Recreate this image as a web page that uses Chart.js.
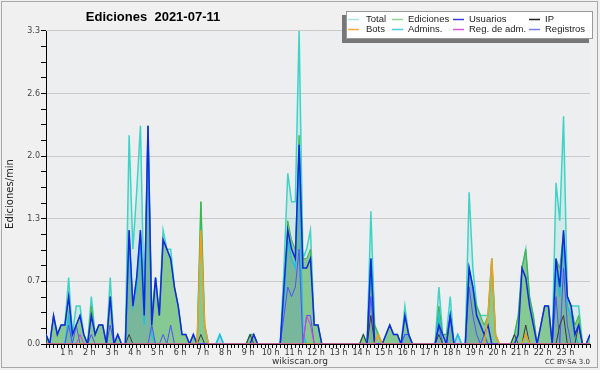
<!DOCTYPE html>
<html>
<head>
<meta charset="utf-8">
<script src="https://cdn.jsdelivr.net/npm/chart.js@4.4.0/dist/chart.umd.min.js"></script>
<style>
    body { margin: 0; background: #f0f0f0; }
    canvas { display: block; }
</style>
</head>
<body>
<canvas id="chart" width="600" height="370"></canvas>
<script>
// 10 minute bins, 0 = 00:00 ... 144 = 24:00
const bins = Array.from({length: 145}, (_, i) => i);

// edits per minute, one row per hour
const total = [
    0.1, 0, 0.3, 0.1, 0.2, 0.2,
    0.7, 0.1, 0.4, 0.4, 0.1, 0,
    0.5, 0.1, 0.2, 0.2, 0, 0.7,
    0, 0.1, 0, 0, 2.2, 1.0,
    1.6, 2.3, 0.4, 2.3, 0.3, 0.7,
    0.3, 1.2, 1.0, 1.0, 0.6, 0.4,
    0.1, 0.1, 0, 0.1, 0, 1.5,
    0.2, 0, 0, 0, 0.1, 0,
    0, 0, 0, 0, 0, 0,
    0.1, 0.1, 0, 0, 0, 0,
    0, 0, 0, 0.8, 1.8, 1.5,
    1.5, 3.3, 0.9, 1.0, 1.2, 0.2,
    0.2, 0, 0, 0, 0, 0,
    0, 0, 0, 0, 0, 0,
    0.1, 0, 1.4, 0.2, 0.1, 0,
    0.1, 0.2, 0.1, 0.1, 0, 0.4,
    0.1, 0, 0, 0, 0, 0,
    0, 0, 0.6, 0.1, 0.1, 0.5,
    0, 0.1, 0, 0, 1.6, 0.8,
    0.4, 0.3, 0.3, 0.3, 0.9, 0.1,
    0, 0, 0, 0, 0.1, 0.3,
    0.8, 1.0, 0.5, 0.3, 0, 0.2,
    0.4, 0.4, 0, 1.7, 1.3, 2.4,
    0.5, 0.4, 0.4, 0.4, 0, 0,
    0.1
];

const ediciones = [
    0.1, 0, 0.3, 0.1, 0.2, 0.2,
    0.5, 0.1, 0.2, 0.3, 0.1, 0,
    0.4, 0.1, 0.2, 0.2, 0, 0.5,
    0, 0.1, 0, 0, 1.2, 0.4,
    0.7, 1.2, 0.3, 2.3, 0.3, 0.7,
    0.3, 1.1, 1.0, 0.9, 0.6, 0.4,
    0.1, 0.1, 0, 0.1, 0, 1.5,
    0.2, 0, 0, 0, 0, 0,
    0, 0, 0, 0, 0, 0,
    0.1, 0.1, 0, 0, 0, 0,
    0, 0, 0, 0.6, 1.3, 1.1,
    1.0, 2.2, 0.9, 0.9, 1.0, 0.2,
    0.2, 0, 0, 0, 0, 0,
    0, 0, 0, 0, 0, 0,
    0.1, 0, 0.9, 0.2, 0.1, 0,
    0.1, 0.2, 0.1, 0.1, 0, 0.3,
    0.1, 0, 0, 0, 0, 0,
    0, 0, 0.4, 0.1, 0.1, 0.3,
    0, 0, 0, 0, 0.8, 0.6,
    0.4, 0.3, 0.2, 0.3, 0.9, 0.1,
    0, 0, 0, 0, 0.1, 0.3,
    0.8, 1.0, 0.5, 0.3, 0, 0.2,
    0.4, 0.4, 0, 0.9, 0.8, 1.2,
    0.5, 0.4, 0.2, 0.3, 0, 0,
    0.1
];

const usuarios = [
    0.1, 0, 0.3, 0.1, 0.2, 0.2,
    0.5, 0.1, 0.2, 0.3, 0.1, 0,
    0.3, 0.1, 0.2, 0.2, 0, 0.5,
    0, 0.1, 0, 0, 1.2, 0.4,
    0.7, 1.2, 0.3, 2.3, 0.2, 0.7,
    0.3, 1.1, 1.0, 0.9, 0.6, 0.4,
    0.1, 0.1, 0, 0.1, 0, 0,
    0, 0, 0, 0, 0, 0,
    0, 0, 0, 0, 0, 0,
    0, 0.1, 0, 0, 0, 0,
    0, 0, 0, 0.6, 1.2, 1.0,
    0.9, 2.1, 0.8, 0.8, 0.9, 0.2,
    0.2, 0, 0, 0, 0, 0,
    0, 0, 0, 0, 0, 0,
    0, 0, 0.9, 0, 0, 0,
    0.1, 0.2, 0.1, 0.1, 0, 0.3,
    0.1, 0, 0, 0, 0, 0,
    0, 0, 0.2, 0.1, 0, 0.3,
    0, 0, 0, 0, 0.8, 0.6,
    0.3, 0.2, 0.1, 0.2, 0, 0,
    0, 0, 0, 0, 0, 0.1,
    0.8, 0.7, 0.4, 0.2, 0, 0.2,
    0.4, 0.4, 0, 0.9, 0.6, 1.2,
    0.5, 0.4, 0.1, 0.2, 0, 0,
    0.1
];

const ip = [
    0.1, 0, 0, 0, 0, 0,
    0, 0, 0, 0, 0, 0,
    0, 0, 0, 0, 0, 0,
    0, 0, 0, 0, 0.1, 0,
    0, 0, 0, 0, 0, 0,
    0, 0, 0, 0, 0, 0,
    0, 0, 0, 0, 0, 0.1,
    0, 0, 0, 0, 0, 0,
    0, 0, 0, 0, 0, 0,
    0.1, 0, 0, 0, 0, 0,
    0, 0, 0, 0, 0, 0,
    0, 0, 0, 0, 0, 0,
    0, 0, 0, 0, 0, 0,
    0, 0, 0, 0, 0, 0,
    0.1, 0, 0.3, 0, 0, 0,
    0, 0, 0, 0, 0, 0,
    0, 0, 0, 0, 0, 0,
    0, 0, 0.1, 0, 0, 0,
    0, 0, 0, 0, 0, 0,
    0, 0, 0, 0, 0, 0,
    0, 0, 0, 0, 0.1, 0,
    0, 0.2, 0, 0, 0, 0,
    0, 0, 0, 0, 0.2, 0.3,
    0, 0, 0, 0.2, 0, 0,
    0
];

const bots = [
    0, 0, 0, 0, 0, 0,
    0, 0, 0, 0, 0, 0,
    0, 0, 0, 0, 0, 0,
    0, 0, 0, 0, 0, 0,
    0, 0, 0, 0, 0, 0,
    0, 0, 0, 0, 0, 0,
    0, 0, 0, 0, 0, 1.2,
    0.2, 0, 0, 0, 0, 0,
    0, 0, 0, 0, 0, 0,
    0, 0, 0, 0, 0, 0,
    0, 0, 0, 0, 0, 0,
    0, 0, 0, 0, 0, 0,
    0, 0, 0, 0, 0, 0,
    0, 0, 0, 0, 0, 0,
    0, 0, 0, 0, 0.1, 0,
    0, 0, 0, 0, 0, 0,
    0, 0, 0, 0, 0, 0,
    0, 0, 0, 0, 0, 0,
    0, 0, 0, 0, 0, 0,
    0, 0, 0, 0.3, 0.9, 0.1,
    0, 0, 0, 0, 0, 0,
    0, 0.1, 0, 0, 0, 0,
    0, 0, 0, 0, 0, 0,
    0, 0, 0, 0, 0, 0,
    0
];

const admins = [
    0, 0, 0, 0, 0, 0,
    0.3, 0, 0, 0, 0, 0,
    0, 0, 0, 0, 0, 0,
    0, 0, 0, 0, 1.1, 0.4,
    0.6, 1.1, 0.2, 2.2, 0.1, 0,
    0, 0, 0, 0, 0, 0,
    0, 0, 0, 0, 0, 0,
    0, 0, 0, 0, 0.1, 0,
    0, 0, 0, 0, 0, 0,
    0, 0, 0, 0, 0, 0,
    0, 0, 0, 0.5, 1.1, 0.9,
    0.8, 2.0, 0.1, 0, 0, 0,
    0, 0, 0, 0, 0, 0,
    0, 0, 0, 0, 0, 0,
    0, 0, 0.9, 0, 0, 0,
    0, 0, 0, 0, 0, 0.1,
    0.1, 0, 0, 0, 0, 0,
    0, 0, 0.3, 0, 0, 0.3,
    0, 0.1, 0, 0, 0.8, 0.6,
    0.3, 0.2, 0.1, 0, 0, 0,
    0, 0, 0, 0, 0, 0,
    0, 0, 0, 0, 0, 0,
    0, 0, 0, 0.8, 0.5, 1.1,
    0.4, 0.3, 0.1, 0, 0, 0,
    0
];

const regAdm = [
    0, 0, 0, 0, 0, 0,
    0, 0, 0, 0.1, 0, 0,
    0, 0, 0, 0, 0, 0,
    0, 0, 0, 0, 0, 0,
    0, 0, 0, 0, 0, 0,
    0, 0, 0, 0, 0, 0,
    0, 0, 0, 0, 0, 0,
    0, 0, 0, 0, 0, 0,
    0, 0, 0, 0, 0, 0,
    0, 0, 0, 0, 0, 0,
    0, 0, 0, 0, 0, 0,
    0, 0, 0, 0.3, 0.2, 0,
    0, 0, 0, 0, 0, 0,
    0, 0, 0, 0, 0, 0,
    0, 0, 0, 0, 0, 0,
    0, 0, 0, 0, 0, 0,
    0, 0, 0, 0, 0, 0,
    0, 0, 0, 0, 0, 0,
    0, 0, 0, 0, 0, 0,
    0, 0, 0, 0, 0, 0,
    0, 0, 0, 0, 0, 0,
    0, 0, 0, 0, 0, 0,
    0, 0, 0, 0, 0, 0,
    0, 0, 0, 0, 0, 0,
    0
];

const registros = [
    0, 0, 0, 0, 0, 0,
    0.2, 0, 0.2, 0, 0, 0,
    0.1, 0, 0, 0, 0, 0.2,
    0, 0, 0, 0, 0, 0,
    0, 0, 0, 0, 0.2, 0,
    0, 0.1, 0, 0.2, 0, 0,
    0, 0, 0, 0, 0, 0,
    0, 0, 0, 0, 0, 0,
    0, 0, 0, 0, 0, 0,
    0, 0, 0, 0, 0, 0,
    0, 0, 0, 0.3, 0.6, 0.5,
    0.6, 1.0, 0, 0.3, 0.3, 0,
    0, 0, 0, 0, 0, 0,
    0, 0, 0, 0, 0, 0,
    0, 0, 0.5, 0, 0, 0,
    0, 0, 0, 0, 0, 0.1,
    0.1, 0, 0, 0, 0, 0,
    0, 0, 0.2, 0, 0, 0.3,
    0, 0, 0, 0, 0.6, 0.3,
    0.1, 0, 0.1, 0, 0, 0,
    0, 0, 0, 0, 0, 0,
    0, 0, 0, 0, 0, 0,
    0, 0, 0, 0.5, 0, 0.8,
    0.2, 0, 0, 0, 0, 0,
    0
];

const yMax = 3.3;
const yStep = 0.165;

function makeLine(label, data, color, legendColor, width, order, fill, fillColor) {
    return {
        label: label,
        data: data,
        borderColor: color,
        legendColor: legendColor,
        borderWidth: width,
        backgroundColor: fillColor || 'transparent',
        fill: fill ? 'origin' : false,
        pointRadius: 0,
        tension: 0,
        order: order
    };
}

const decor = {
    id: 'decor',
    beforeDraw(chart) {
        const ctx = chart.ctx;
        const a = chart.chartArea;
        ctx.save();
        ctx.fillStyle = '#f0f0f0';
        ctx.fillRect(0, 0, 600, 370);
        ctx.strokeStyle = '#a8a8a8';
        ctx.lineWidth = 1;
        ctx.strokeRect(1.5, 1.5, 596, 366);
        ctx.fillStyle = '#eceef0';
        ctx.fillRect(a.left, a.top, a.right - a.left, a.bottom - a.top);
        ctx.restore();
    },
    afterDraw(chart) {
        const ctx = chart.ctx;
        ctx.save();

        // title
        ctx.fillStyle = '#000';
        ctx.font = 'bold 13px "Liberation Sans"';
        ctx.textAlign = 'center';
        ctx.textBaseline = 'middle';
        ctx.fillText('Ediciones  2021-07-11', 153, 17);

        // y axis title
        ctx.save();
        ctx.translate(10, 194);
        ctx.rotate(-Math.PI / 2);
        ctx.font = '10px "DejaVu Sans"';
        ctx.fillStyle = '#222';
        ctx.fillText('Ediciones/min', 0, 0);
        ctx.restore();

        // footer
        ctx.font = '9px "DejaVu Sans"';
        ctx.fillStyle = '#333';
        ctx.fillText('wikiscan.org', 300, 362);
        ctx.font = '7px "DejaVu Sans"';
        ctx.textAlign = 'right';
        ctx.fillText('CC BY-SA 3.0', 590, 362);

        // legend box with shadow
        ctx.fillStyle = '#777';
        ctx.fillRect(342, 15, 247, 28);
        ctx.fillStyle = '#fff';
        ctx.fillRect(346, 11, 247, 28);
        ctx.strokeStyle = '#999';
        ctx.lineWidth = 1;
        ctx.strokeRect(346.5, 11.5, 246, 27);

        const lineX = [348, 392, 453, 529];
        const textX = [366, 408, 469, 545];
        const rows = [19.5, 29.5];
        ctx.font = '9.5px "Liberation Sans"';
        ctx.textAlign = 'left';
        ctx.textBaseline = 'middle';
        chart.data.datasets.forEach((ds, i) => {
            const c = i % 4;
            const y = rows[Math.floor(i / 4)];
            ctx.strokeStyle = ds.legendColor;
            ctx.lineWidth = 1.5;
            ctx.beginPath();
            ctx.moveTo(lineX[c], y);
            ctx.lineTo(lineX[c] + 11, y);
            ctx.stroke();
            ctx.fillStyle = '#222';
            ctx.fillText(ds.label, textX[c], y);
        });

        ctx.restore();
    }
};

Chart.defaults.font.family = '"DejaVu Sans"';

new Chart(document.getElementById('chart'), {
    type: 'line',
    data: {
        labels: bins,
        datasets: [
            makeLine('Total', total, '#3fd3c6', '#a6e6e2', 1.5, 9, true, 'rgba(64, 208, 192, 0.14)'),
            makeLine('Ediciones', ediciones, '#45b245', '#90d690', 1, 8, true, 'rgba(60, 170, 60, 0.5)'),
            makeLine('Usuarios', usuarios, '#1528e0', '#3a3ae0', 1.5, 3, false),
            makeLine('IP', ip, '#3a3a3a', '#222222', 1, 4, false),
            makeLine('Bots', bots, '#f0a020', '#f8a838', 1.5, 2, false),
            makeLine('Admins.', admins, '#22bfe0', '#48cce0', 1.5, 6, true, 'rgba(50, 80, 220, 0.15)'),
            makeLine('Reg. de adm.', regAdm, '#d040e0', '#d458e4', 1, 1, false),
            makeLine('Registros', registros, '#5252f2', '#7c7cf0', 1, 5, false)
        ]
    },
    options: {
        responsive: false,
        animation: false,
        devicePixelRatio: 1,
        events: [],
        layout: {
            padding: {left: 0, right: 10, top: 31, bottom: 12}
        },
        plugins: {
            legend: {display: false},
            title: {display: false},
            tooltip: {enabled: false}
        },
        scales: {
            x: {
                type: 'linear',
                min: 0,
                max: 144,
                afterBuildTicks: function (scale) {
                    scale.ticks = bins.map(v => ({value: v}));
                },
                afterFit: function (scale) {
                    scale.height = 14;
                },
                ticks: {
                    autoSkip: false,
                    maxRotation: 0,
                    padding: 0,
                    labelOffset: -2,
                    color: '#333',
                    font: {size: 8},
                    callback: function (v) {
                        return (v % 6 === 0 && v > 0 && v < 144) ? (v / 6) + ' h' : '';
                    }
                },
                grid: {
                    drawOnChartArea: false,
                    drawTicks: true,
                    tickLength: 4,
                    tickColor: '#000'
                },
                border: {color: '#000', width: 1}
            },
            y: {
                min: 0,
                max: yMax,
                afterBuildTicks: function (scale) {
                    const t = [];
                    for (let k = 0; k <= 20; k++) {
                        t.push({value: k * yStep});
                    }
                    scale.ticks = t;
                },
                afterFit: function (scale) {
                    scale.width = 46;
                },
                ticks: {
                    padding: 1,
                    color: '#444',
                    font: {size: 8},
                    callback: function (v, idx) {
                        return idx % 4 === 0 ? v.toFixed(1) : '';
                    }
                },
                grid: {
                    drawTicks: true,
                    tickLength: 5,
                    tickColor: '#000',
                    color: function (ctx) {
                        return (ctx.index % 4 === 0 && ctx.index > 0) ? '#c9c9c9' : 'rgba(0,0,0,0)';
                    }
                },
                border: {color: '#000', width: 1}
            }
        }
    },
    plugins: [decor]
});
</script>
</body>
</html>
